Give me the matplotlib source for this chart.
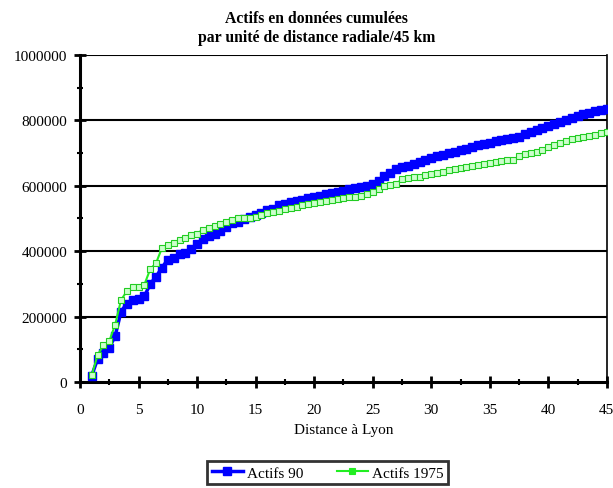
import matplotlib
matplotlib.use("Agg")
import matplotlib.pyplot as plt
import numpy as np
from matplotlib.ticker import MultipleLocator

title = "Actifs en données cumulées\npar unité de distance radiale/45 km"
xlabel = "Distance à Lyon"
series_names = ["Actifs 90", "Actifs 1975"]

distance = [1, 1.5, 2, 2.5, 3, 3.5, 4, 4.5, 5, 5.5, 6, 6.5, 7, 7.5, 8, 8.5, 9, 9.5,
            10, 10.5, 11, 11.5, 12, 12.5, 13, 13.5, 14, 14.5, 15, 15.5, 16, 16.5,
            17, 17.5, 18, 18.5, 19, 19.5, 20, 20.5, 21, 21.5, 22, 22.5, 23, 23.5,
            24, 24.5, 25, 25.5, 26, 26.5, 27, 27.5, 28, 28.5, 29, 29.5, 30, 30.5,
            31, 31.5, 32, 32.5, 33, 33.5, 34, 34.5, 35, 35.5, 36, 36.5, 37, 37.5,
            38, 38.5, 39, 39.5, 40, 40.5, 41, 41.5, 42, 42.5, 43, 43.5, 44, 44.5, 45]

actifs_90 = [19000, 70000, 90000, 105000, 140000, 215000, 240000, 252000, 254000, 262000,
             300000, 322000, 350000, 374000, 380000, 391000, 395000, 408000, 422000, 438000,
             446000, 452000, 462000, 473000, 485000, 490000, 498000, 504000, 510000, 518000,
             525000, 530000, 540000, 545000, 550000, 554000, 558000, 562000, 566000, 570000,
             574000, 577000, 580000, 584000, 589000, 592000, 596000, 600000, 606000, 616000,
             630000, 638000, 652000, 658000, 662000, 668000, 673000, 680000, 684000, 690000,
             694000, 700000, 702000, 708000, 714000, 720000, 724000, 728000, 732000, 736000,
             740000, 744000, 746000, 750000, 758000, 764000, 770000, 776000, 784000, 790000,
             796000, 802000, 808000, 814000, 820000, 824000, 828000, 832000, 834000]

actifs_1975 = [20000, 82000, 112000, 125000, 175000, 250000, 278000, 289000, 290000, 298000,
               345000, 364000, 410000, 420000, 426000, 434000, 440000, 448000, 454000, 466000,
               472000, 476000, 482000, 490000, 496000, 500000, 501000, 503000, 506000, 512000,
               516000, 520000, 524000, 528000, 532000, 536000, 540000, 544000, 548000, 551000,
               555000, 558000, 560000, 563000, 565000, 567000, 570000, 574000, 580000, 590000,
               598000, 602000, 606000, 620000, 624000, 627000, 628000, 632000, 636000, 640000,
               642000, 648000, 650000, 654000, 658000, 662000, 664000, 666000, 670000, 674000,
               677000, 678000, 680000, 690000, 698000, 700000, 704000, 710000, 718000, 724000,
               730000, 736000, 742000, 746000, 748000, 752000, 756000, 760000, 764000]

plt.rcParams['font.family'] = ['Liberation Serif', 'DejaVu Serif']

fig = plt.figure(figsize=(6.13, 4.89), dpi=100)
ax = fig.add_axes([0.1305, 0.2168, 0.8595, 0.6687])

blue = '#0000ff'
green = '#22ee22'
ax.plot(distance, actifs_90, color=blue, lw=2.5, marker='s', ms=5.5,
        mfc=blue, mec=blue, label=series_names[0], zorder=3)
ax.plot(distance, actifs_1975, color=green, lw=1.5, marker='s', ms=5,
        mfc='#ccffcc', mec='#22cc22', mew=0.8, label=series_names[1], zorder=4)

ax.set_xlim(0, 45)
ax.set_ylim(0, 1000000)
ax.xaxis.set_major_locator(MultipleLocator(5))
ax.xaxis.set_minor_locator(MultipleLocator(2.5))
ax.yaxis.set_major_locator(MultipleLocator(200000))
ax.yaxis.set_minor_locator(MultipleLocator(100000))
ax.yaxis.set_major_formatter(matplotlib.ticker.FuncFormatter(lambda v, p: f"{int(v)}"))

for y in [200000, 400000, 600000, 800000, 1000000]:
    ax.axhline(y, color='black', lw=1.5, zorder=1)

for s in ['left', 'bottom']:
    ax.spines[s].set_linewidth(2.2)
ax.spines['right'].set_linewidth(1.2)
ax.spines['top'].set_visible(False)

ax.tick_params(axis='x', which='major', direction='inout', length=8, width=2,
               labelsize=11, pad=11)
ax.tick_params(axis='x', which='minor', direction='inout', length=5, width=1.5)
ax.tick_params(axis='y', which='major', direction='inout', length=8, width=2,
               labelsize=11, pad=5)
ax.tick_params(axis='y', which='minor', direction='inout', length=5, width=1.5)

ax.set_xlabel(xlabel, fontsize=11, labelpad=5)
fig.text(0.516, 0.942, title, ha='center', va='center', fontsize=11.3,
         fontweight='bold', linespacing=1.25)

leg = fig.legend(loc='center', bbox_to_anchor=(0.535, 0.031), ncol=2,
                 frameon=True, fancybox=False, edgecolor='black', fontsize=11,
                 handlelength=2.0, columnspacing=2.2, borderpad=0.3,
                 handletextpad=0.3)
leg.get_frame().set_linewidth(2)
for h in leg.legend_handles:
    h.set_markerfacecolor(h.get_color())
    h.set_markeredgecolor(h.get_color())

fig.savefig('out.png', dpi=100)
